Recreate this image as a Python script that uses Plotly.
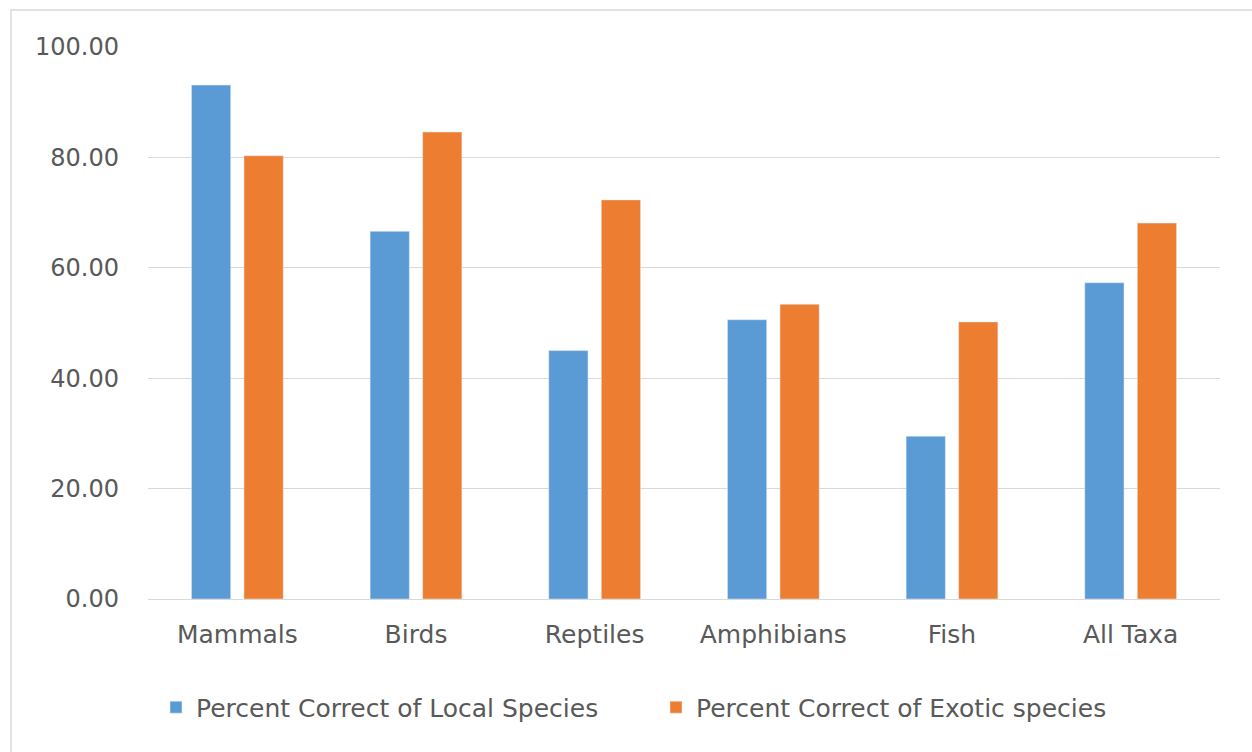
import plotly.graph_objects as go

categories = ["Mammals", "Birds", "Reptiles", "Amphibians", "Fish", "All Taxa"]
local_pct = [93.1, 66.6, 45.0, 50.6, 29.5, 57.3]
exotic_pct = [80.3, 84.6, 72.3, 53.4, 50.2, 68.1]
series_names = ["Percent Correct of Local Species", "Percent Correct of Exotic species"]
y_ticks = [0, 20, 40, 60, 80, 100]

W, H = 1252, 752
ML, MR, MT, MB = 148, 32, 47, 152.5
pw, ph = W - ML - MR, H - MT - MB

def px_x(p):
    return (p - ML) / pw

def px_y(p):
    return (H - MB - p) / ph

TXT = "#595959"
FONT = "DejaVu Sans"

fig = go.Figure()
fig.add_trace(go.Bar(x=categories, y=local_pct, name=series_names[0], marker_color="#5B9BD5"))
fig.add_trace(go.Bar(x=categories, y=exotic_pct, name=series_names[1], marker_color="#ED7D31"))

fig.update_layout(
    width=W, height=H,
    margin=dict(l=ML, r=MR, t=MT, b=MB, autoexpand=False),
    paper_bgcolor="white", plot_bgcolor="white",
    barmode="group", bargap=0.412, bargroupgap=0.253,
    font=dict(family=FONT, color=TXT, size=24),
    showlegend=True,
    legend=dict(
        orientation="h", xref="container", x=156 / W, xanchor="left",
        yref="paper", y=px_y(708), yanchor="middle",
        font=dict(size=25, color=TXT, family=FONT),
        entrywidth=455, entrywidthmode="pixels",
        bgcolor="rgba(0,0,0,0)",
    ),
    xaxis=dict(
        showgrid=False, showline=False, zeroline=False, ticks="",
        tickfont=dict(size=25, color=TXT, family=FONT),
        ticklabelstandoff=18,
    ),
    yaxis=dict(
        range=[0, 100], tickvals=y_ticks, tickformat=".2f",
        showgrid=True, gridcolor="#d9d9d9", gridwidth=1,
        zeroline=True, zerolinecolor="#d9d9d9", zerolinewidth=1,
        showline=False, ticks="",
        tickfont=dict(size=24, color=TXT, family=FONT),
        ticklabelstandoff=28,
    ),
    shapes=[dict(
        type="rect", xref="paper", yref="paper",
        x0=px_x(11), x1=px_x(W + 20), y0=px_y(H + 20), y1=px_y(10),
        line=dict(color="#d9d9d9", width=1.5), fillcolor="rgba(0,0,0,0)", layer="below",
    )],
)

fig.write_html("out.html")
